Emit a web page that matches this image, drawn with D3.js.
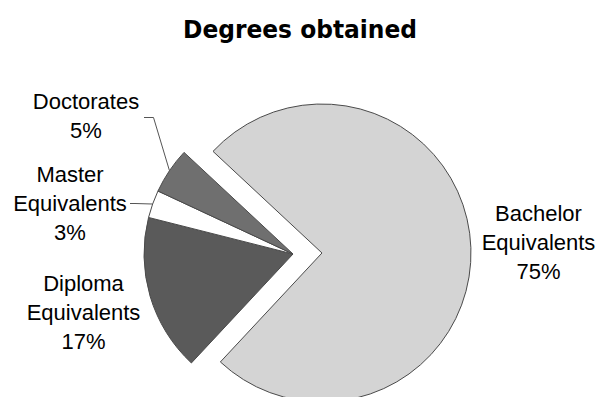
<!DOCTYPE html>
<html>
<head>
<meta charset="utf-8">
<script src="https://cdn.jsdelivr.net/npm/d3@7"></script>
<style>
  html, body { margin: 0; padding: 0; background: #ffffff; }
  svg { display: block; }
</style>
</head>
<body>
<svg id="chart" width="598" height="397"></svg>
<script>
// Degrees obtained, share of each degree type (%)
const categories = ["Diploma Equivalents", "Master Equivalents", "Doctorates", "Bachelor Equivalents"];
const shares = [17, 3, 5, 75];
const labelLines = [["Diploma", "Equivalents"], ["Master", "Equivalents"], ["Doctorates"], ["Bachelor", "Equivalents"]];
const sliceFills = ["#5a5a5a", "#ffffff", "#6f6f6f", "#d4d4d4"];
const titleText = "Degrees obtained";

const W = 598, H = 397;
const cx = 293, cy = 254, radius = 149;
const startDeg = 223;          // first slice begins just past 7 o'clock
const explodedIndex = 3;       // the large slice is pulled out
const explodeDist = 29;
const lineH = 29;

// label placement: centre x, first baseline, leader line (if any)
const labelLayout = [
  { x: 83.5, y: 290.5, leader: null },
  { x: 70,   y: 182,   leader: { from: [130, 203.5], elbow: [135, 203.5] } },
  { x: 86,   y: 109,   leader: { from: [144, 117.5], elbow: [153.5, 117.5] } },
  { x: 538.5, y: 220.7, leader: null }
];

const svg = d3.select("#chart");
const rad = d => d * Math.PI / 180;

const pie = d3.pie()
  .sort(null)
  .value(d => d)
  .startAngle(rad(startDeg))
  .endAngle(rad(startDeg + 360));

const arcs = pie(shares);
const arcGen = d3.arc().innerRadius(0).outerRadius(radius);
const edgeGen = d3.arc().innerRadius(radius).outerRadius(radius);

// title
svg.append("text")
  .attr("x", 300)
  .attr("y", 38)
  .attr("text-anchor", "middle")
  .attr("font-family", "DejaVu Sans, Verdana, sans-serif")
  .attr("font-weight", "bold")
  .attr("font-size", 24)
  .attr("textLength", 234)
  .attr("lengthAdjust", "spacingAndGlyphs")
  .attr("fill", "#000")
  .text(titleText);

const pieG = svg.append("g").attr("transform", `translate(${cx},${cy})`);

function offsetOf(i, d) {
  if (i !== explodedIndex) return [0, 0];
  const mid = (d.startAngle + d.endAngle) / 2;
  return [explodeDist * Math.sin(mid), -explodeDist * Math.cos(mid)];
}

pieG.selectAll("path.slice")
  .data(arcs)
  .join("path")
  .attr("class", "slice")
  .attr("transform", (d, i) => { const o = offsetOf(i, d); return `translate(${o[0]},${o[1]})`; })
  .attr("d", arcGen)
  .attr("fill", (d, i) => sliceFills[i])
  .attr("stroke", "#4a4a4a")
  .attr("stroke-width", 1)
  .attr("stroke-linejoin", "miter");

// leader lines from label to the slice's outer edge
arcs.forEach((d, i) => {
  const L = labelLayout[i].leader;
  if (!L) return;
  const o = offsetOf(i, d);
  const c = edgeGen.centroid(d);
  const end = [cx + o[0] + c[0], cy + o[1] + c[1]];
  svg.append("path")
    .attr("d", d3.line()([L.from, L.elbow, end]))
    .attr("fill", "none")
    .attr("stroke", "#555")
    .attr("stroke-width", 1);
});

// slice labels: name lines + percentage
arcs.forEach((d, i) => {
  const lay = labelLayout[i];
  const lines = labelLines[i].concat([shares[i] + "%"]);
  const t = svg.append("text")
    .attr("text-anchor", "middle")
    .attr("font-family", "Liberation Sans, Arial, sans-serif")
    .attr("font-size", 22)
    .attr("fill", "#000");
  lines.forEach((s, k) => {
    t.append("tspan")
      .attr("x", lay.x)
      .attr("y", lay.y + k * lineH)
      .text(s);
  });
});
</script>
</body>
</html>
